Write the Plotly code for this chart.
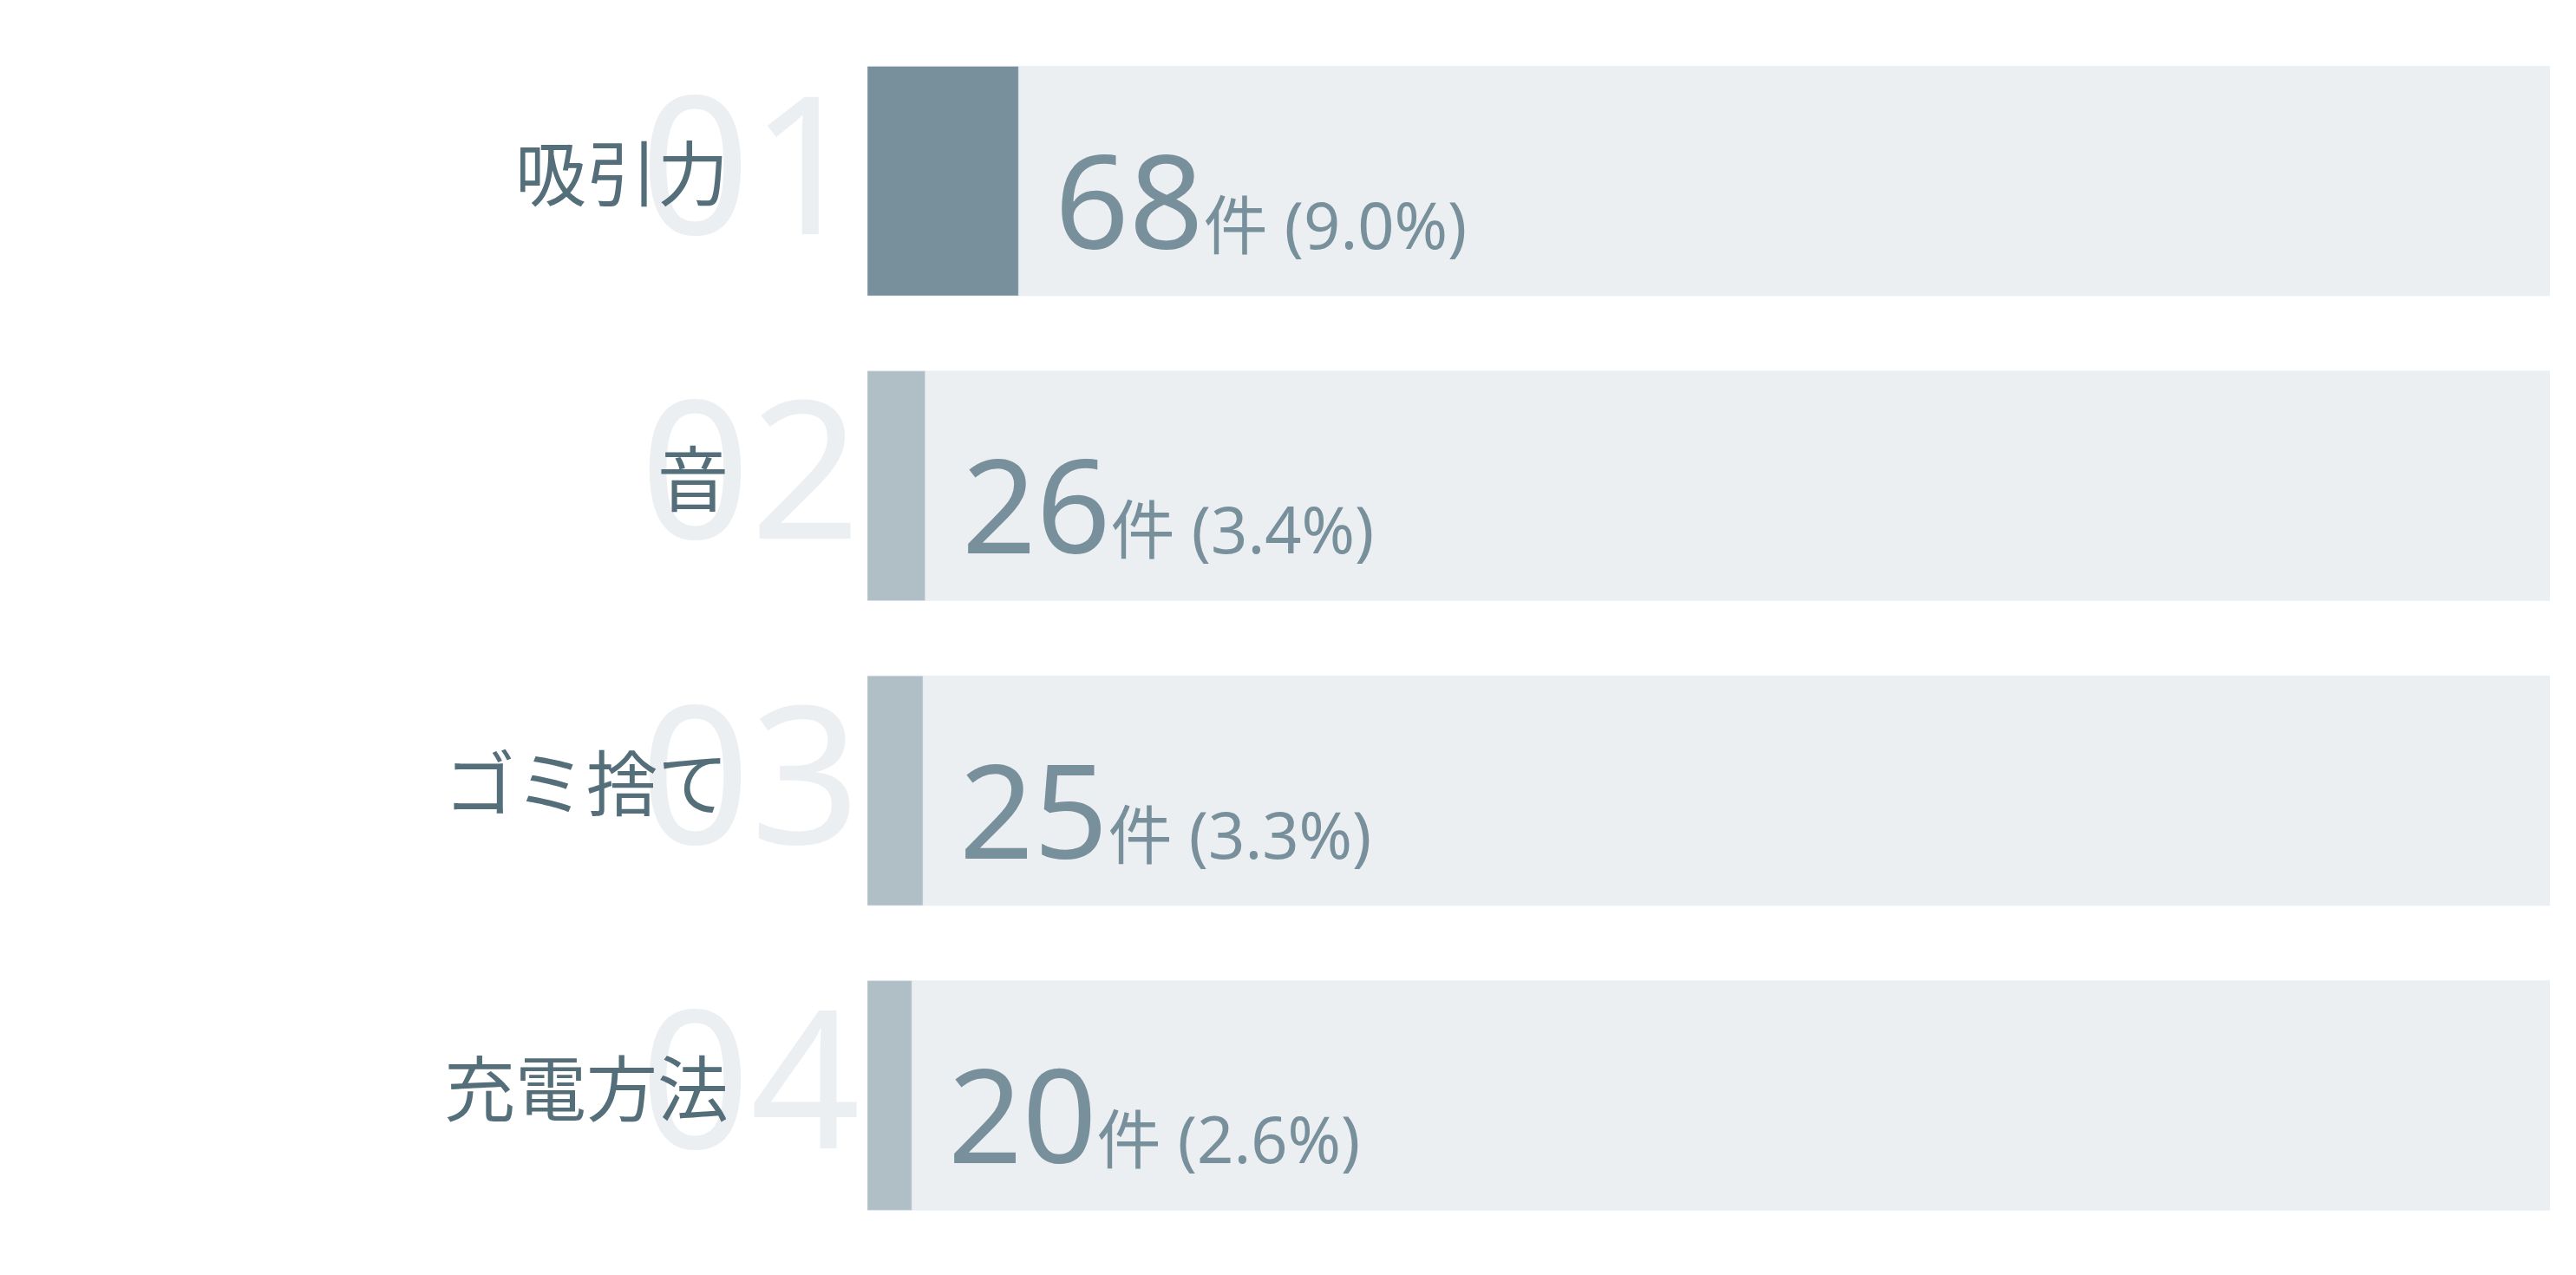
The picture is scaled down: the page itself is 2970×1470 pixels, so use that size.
import plotly.graph_objects as go

# data
labels = ["吸引力", "音", "ゴミ捨て", "充電方法"]
ranks = ["01", "02", "03", "04"]
counts = [68, 26, 25, 20]
total = 757

bar_colors = ["#78909c", "#b0bec5", "#b0bec5", "#b0bec5"]
track_color = "#eceff1"
label_color = "#546e7a"
value_color = "#78909c"
font_family = "Noto Sans, Noto Sans CJK JP"

fig = go.Figure()

# Full-width background track
fig.add_trace(
    go.Bar(
        x=[total] * len(labels),
        y=labels,
        orientation="h",
        marker_color=track_color,
        hoverinfo="skip",
        showlegend=False,
    )
)
# Actual counts on top
fig.add_trace(
    go.Bar(
        x=counts,
        y=labels,
        orientation="h",
        marker_color=bar_colors,
        showlegend=False,
    )
)

annotations = []

# Big faded rank numbers (drawn first so the labels sit on top)
for rank, label in zip(ranks, labels):
    annotations.append(
        dict(
            x=0,
            y=label,
            xref="x",
            yref="y",
            text=rank,
            showarrow=False,
            xanchor="right",
            yanchor="middle",
            xshift=-6,
            yshift=25,
            font=dict(family=font_family, size=222, color=track_color),
        )
    )

# Category labels
for label in labels:
    annotations.append(
        dict(
            x=0,
            y=label,
            xref="x",
            yref="y",
            text=label,
            showarrow=False,
            xanchor="right",
            yanchor="middle",
            xshift=-158,
            yshift=13,
            font=dict(family="Noto Sans CJK JP", size=82, color=label_color),
        )
    )

# Value labels: count + unit and share
for label, count in zip(labels, counts):
    pct = count / total * 100
    annotations.append(
        dict(
            x=count,
            y=label,
            xref="x",
            yref="y",
            text=f"{count}<span style='font-size:74px'>件 ({pct:.1f}%)</span>",
            showarrow=False,
            xanchor="left",
            yanchor="middle",
            xshift=40,
            yshift=-20,
            font=dict(family=font_family, size=150, color=value_color),
        )
    )

fig.update_layout(
    width=2954,
    height=1454,
    barmode="overlay",
    bargap=0.247,
    plot_bgcolor="white",
    paper_bgcolor="white",
    margin=dict(l=992, r=22, t=25, b=21),
    xaxis=dict(range=[0, total], visible=False, fixedrange=True),
    yaxis=dict(autorange="reversed", visible=False, fixedrange=True),
    annotations=annotations,
)

fig.write_html("out.html")
